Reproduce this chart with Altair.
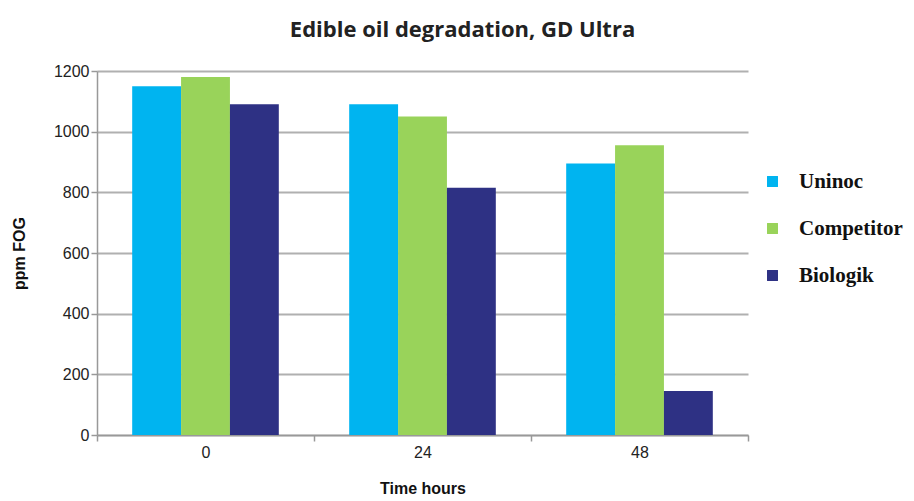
import altair as alt
import pandas as pd

hours = ["0", "24", "48"]
series = ["Uninoc", "Competitor", "Biologik"]
uninoc = [1150, 1090, 895]
competitor = [1180, 1050, 955]
biologik = [1090, 815, 145]
colors = ["#00b4f0", "#99d35a", "#2e3184"]

rows = []
for name, vals in zip(series, [uninoc, competitor, biologik]):
    for h, v in zip(hours, vals):
        rows.append({"hour": h, "series": name, "value": v})
df = pd.DataFrame(rows)

chart = alt.Chart(df).mark_bar().encode(
    x=alt.X("hour:N", sort=hours, title="Time hours",
            scale=alt.Scale(paddingInner=0, paddingOuter=0),
            axis=alt.Axis(labelAngle=0, tickBand="extent", labelPadding=3, titlePadding=20)),
    xOffset=alt.XOffset("series:N", sort=series,
                        scale=alt.Scale(paddingInner=0, paddingOuter=0.72)),
    y=alt.Y("value:Q", title="ppm FOG",
            scale=alt.Scale(domain=[0, 1200]),
            axis=alt.Axis(values=[0, 200, 400, 600, 800, 1000, 1200], format="d",
                          titlePadding=26)),
    color=alt.Color("series:N", sort=series, title=None,
                    scale=alt.Scale(domain=series, range=colors),
                    legend=alt.Legend(orient="none", legendX=665, legendY=100,
                                      symbolType="square", symbolSize=120,
                                      symbolStrokeWidth=0,
                                      labelFont="Liberation Serif", labelFontWeight="bold",
                                      labelFontSize=21, labelColor="#111111",
                                      labelOffset=16, rowPadding=25)),
).properties(
    width=651, height=364,
    title=alt.Title("Edible oil degradation, GD Ultra", font="Open Sans", fontSize=22,
                    fontWeight="bold", color="#222222", dx=40, offset=21, anchor="middle"),
    autosize=alt.AutoSizeParams(type="none"),
    padding={"left": 89, "top": 63, "right": 158, "bottom": 64},
).configure_axis(
    labelFont="Liberation Sans", labelFontSize=16, labelColor="#222222",
    titleFont="Liberation Sans", titleFontSize=16, titleFontWeight="bold", titleColor="#111111",
    domainColor="#999999", domainWidth=1.5, tickColor="#999999", tickSize=6, tickWidth=1.5,
    gridColor="#b0b0b0", gridWidth=1.8,
).configure_axisX(grid=False).configure_view(stroke=None)

chart.save("out.html", embed_options={"renderer": "svg", "actions": False})
